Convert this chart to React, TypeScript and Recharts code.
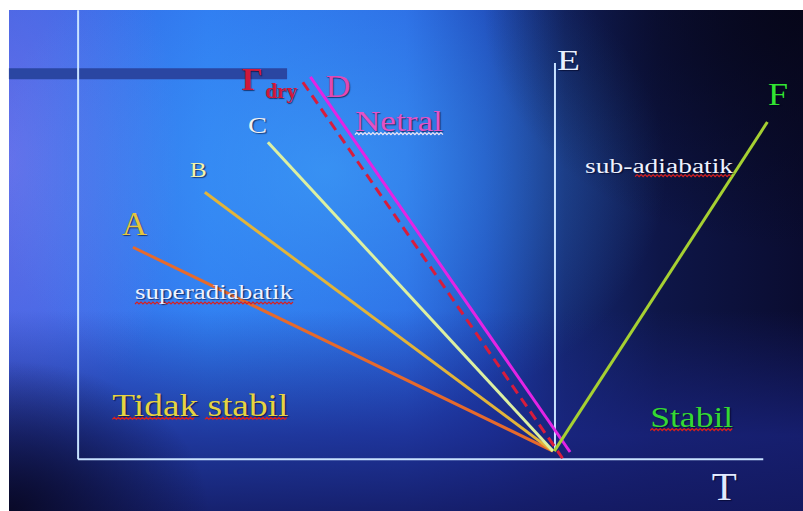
import React from 'react';
import { LineChart, Line, XAxis, YAxis, ReferenceLine, ReferenceDot } from 'recharts';

// chart units: T along x, height (z) along y
const X_MIN = -11.4;
const X_MAX = 105.8;
const Y_MIN = -11.6;
const Y_MAX = 102.7;

// lapse-rate lines, one entry per curve
const curveNames = ['A', 'B', 'C', 'Γdry', 'D', 'F'];
const startT = [8.0, 18.5, 27.7, 32.8, 33.9, 69.5];
const startZ = [47.4, 59.7, 70.9, 84.3, 85.5, 1.8];
const endT = [69.3, 69.3, 69.3, 70.7, 71.8, 100.6];
const endZ = [1.8, 1.8, 1.8, 0.2, 1.6, 75.4];

const curveColors = ['#e66a2c', '#e2b43a', '#dcf0a2', '#d81c3c', '#e424e4', '#a6d032'];

// axis segments
const axisT = [0, 100];
const axisZ = [0, 100.4];
const eAxisT = 69.6;
const eAxisZ = [2, 88.6];
const barT = [-10.1, 30.5];
const barZ = 86.2;

// annotation texts
const labelTexts = ['A', 'B', 'C', 'Γ', 'dry', 'D', 'Netral', 'E', 'F', 'sub-adiabatik', 'superadiabatik', 'Tidak stabil', 'Stabil', 'T'];

const labelStyle: { t: number; z: number; w: number; size: number; color: string; bold?: boolean }[] = [
  { t: 6.4, z: 50.1, w: 25, size: 34, color: '#e4c63c' },
  { t: 16.3, z: 63.1, w: 17, size: 22, color: '#f4f2aa' },
  { t: 24.8, z: 72.9, w: 19, size: 24, color: '#f2f2f2' },
  { t: 23.9, z: 82.5, w: 21, size: 32, color: '#d2183a', bold: true },
  { t: 27.3, z: 80.8, w: 32, size: 20, color: '#d2183a', bold: true },
  { t: 36.1, z: 81.0, w: 25, size: 32, color: '#e248b4' },
  { t: 40.4, z: 73.4, w: 88, size: 30, color: '#e452c8' },
  { t: 69.9, z: 87.0, w: 23, size: 30, color: '#e8f0ff' },
  { t: 100.7, z: 79.2, w: 20, size: 32, color: '#32e432' },
  { t: 74.0, z: 64.0, w: 148, size: 20, color: '#eef2ff' },
  { t: 8.3, z: 35.8, w: 158, size: 20, color: '#eef2ff' },
  { t: 5.0, z: 9.6, w: 176, size: 32, color: '#e6d442' },
  { t: 83.5, z: 7.2, w: 83, size: 30, color: '#34d834' },
  { t: 92.5, z: -9.2, w: 25, size: 40, color: '#e2eaff' },
];

// spell-check squiggles under some words
const squiggleFrom = [40.4, 81.3, 8.3, 5.0, 18.5, 83.5];
const squiggleTo = [53.3, 95.6, 31.4, 17.1, 30.7, 95.6];
const squiggleZ = [72.6, 63.2, 34.7, 8.9, 8.9, 6.4];
const squiggleColor = ['#f4e8f4', '#d82020', '#d82020', '#d82020', '#d82020', '#d82020'];

const curves = curveNames.map((name, i) => ({
  name,
  color: curveColors[i],
  data: [
    { x: startT[i], y: startZ[i] },
    { x: endT[i], y: endZ[i] },
  ],
}));

const TextShape = (p: any) => {
  const s = labelStyle[p.idx];
  return (
    <text
      x={p.cx}
      y={p.cy}
      fill={s.color}
      fontSize={s.size}
      fontWeight={s.bold ? 700 : 400}
      fontFamily="'Liberation Serif', 'DejaVu Serif', serif"
      textLength={s.w}
      lengthAdjust="spacingAndGlyphs"
      style={{ textShadow: '1px 1px 1px rgba(0,0,30,0.6)' }}
    >
      {labelTexts[p.idx]}
    </text>
  );
};

const SquiggleShape = (p: any) => {
  const i = p.idx;
  const pxPerT = 6.85;
  const len = (squiggleTo[i] - squiggleFrom[i]) * pxPerT;
  let d = `M${p.cx},${p.cy}`;
  let up = true;
  for (let k = 2; k <= len; k += 2) {
    d += ` L${p.cx + k},${p.cy + (up ? -2 : 0)}`;
    up = !up;
  }
  return <path d={d} fill="none" stroke={squiggleColor[i]} strokeWidth={1.2} />;
};

const App: React.FC = () => {
  const bg = [
    'radial-gradient(ellipse 200px 150px at 0% 100%, rgba(8,8,36,0.95), rgba(8,8,36,0))',
    'radial-gradient(ellipse 320px 240px at 100% 0%, rgba(6,6,24,0.95), rgba(6,6,24,0))',
    'linear-gradient(to bottom, rgba(26,36,130,0) 60%, rgba(26,36,130,0.75) 85%, rgba(20,26,100,0.92) 100%)',
    'radial-gradient(ellipse 340px 260px at 40% 32%, rgba(64,170,250,0.6), rgba(64,170,250,0))',
    'radial-gradient(ellipse 170px 300px at 0% 30%, rgba(130,120,240,0.6), rgba(130,120,240,0))',
    'linear-gradient(to right, #3a62e0 0%, #2e76f0 25%, #2a64e2 50%, #1e46b8 60%, #14266e 70%, #0e1648 82%, #0a0c30 100%)',
  ].join(', ');

  return (
    <div style={{ position: 'fixed', left: 0, top: 0, width: 803, height: 511, background: '#ffffff' }}>
      <div style={{ position: 'absolute', left: 9, top: 10, width: 794, height: 501, background: bg }} />
      <div style={{ position: 'absolute', left: 0, top: 0 }}>
        <LineChart width={803} height={511} margin={{ top: 0, right: 0, bottom: 0, left: 0 }}>
          <XAxis type="number" dataKey="x" domain={[X_MIN, X_MAX]} hide allowDataOverflow />
          <YAxis type="number" dataKey="y" domain={[Y_MIN, Y_MAX]} hide allowDataOverflow />

          <ReferenceLine segment={[{ x: barT[0], y: barZ }, { x: barT[1], y: barZ }]} stroke="#2a46a2" strokeWidth={11} />
          <ReferenceLine segment={[{ x: axisT[0], y: axisZ[0] }, { x: axisT[0], y: axisZ[1] }]} stroke="#c8e2ff" strokeWidth={2} />
          <ReferenceLine segment={[{ x: axisT[0], y: 0 }, { x: axisT[1], y: 0 }]} stroke="#c8e2ff" strokeWidth={2} />
          <ReferenceLine segment={[{ x: eAxisT, y: eAxisZ[0] }, { x: eAxisT, y: eAxisZ[1] }]} stroke="#c8e2ff" strokeWidth={2} />

          {curves.map((c) => (
            <Line
              key={c.name}
              data={c.data}
              dataKey="y"
              type="linear"
              stroke={c.color}
              strokeWidth={3}
              strokeDasharray={c.name === 'Γdry' ? '10 6' : undefined}
              dot={false}
              activeDot={false}
              isAnimationActive={false}
            />
          ))}

          {squiggleFrom.map((t, i) => (
            <ReferenceDot key={'sq' + i} x={t} y={squiggleZ[i]} r={1} shape={(p: any) => <SquiggleShape {...p} idx={i} />} />
          ))}
          {labelTexts.map((txt, i) => (
            <ReferenceDot
              key={'lb' + i}
              x={labelStyle[i].t}
              y={labelStyle[i].z}
              r={1}
              shape={(p: any) => <TextShape {...p} idx={i} />}
            />
          ))}
        </LineChart>
      </div>
    </div>
  );
};

export default App;
